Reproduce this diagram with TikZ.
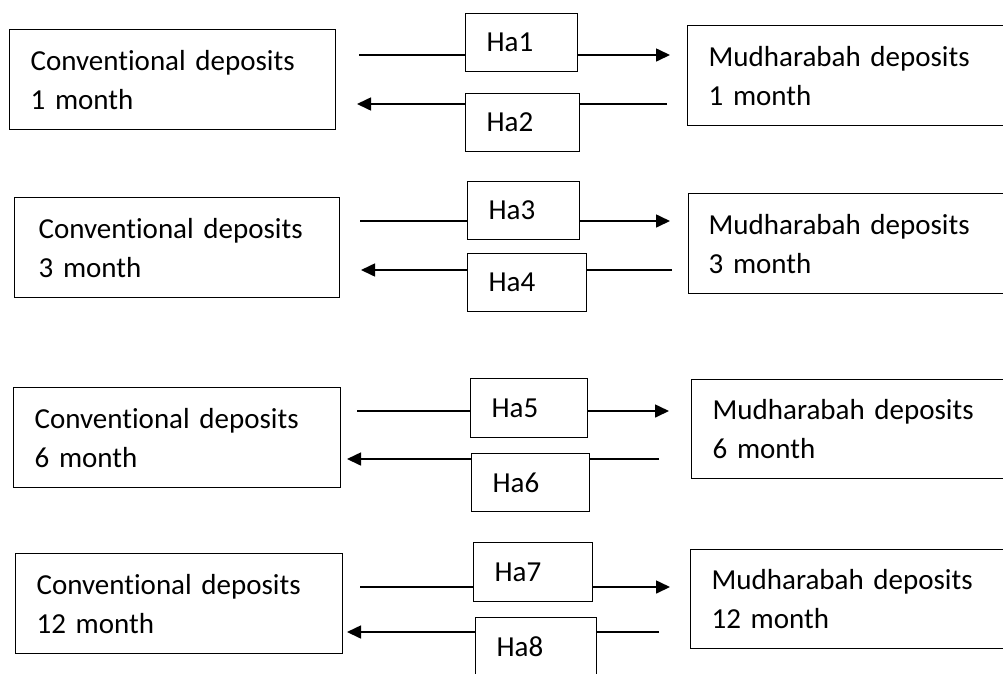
\documentclass[tikz,border=0pt]{standalone}
\usepackage{fontspec}
\setmainfont{Carlito}[Ligatures=NoCommon]
\usetikzlibrary{arrows.meta}
\begin{document}
\begin{tikzpicture}[x=1pt,y=-1pt,
  every node/.style={font=\fontsize{29}{39}\selectfont},
  depbox/.style={draw, line width=1.3pt, anchor=north west, inner xsep=21pt, inner ysep=0pt, align=left, minimum height=100pt},
  habox/.style={draw, line width=1.3pt, anchor=north west, inner xsep=21pt, inner ysep=0pt, align=left, minimum height=58pt},
  link/.style={line width=1.6pt},
  arr/.style={line width=1.6pt, -{Triangle[length=14pt,width=13pt]}}]
\useasboundingbox (0,0) rectangle (1003,673);
\clip (0,0) rectangle (1003,673);

% ---------- group 1 ----------
\node[depbox, text width=284pt] (c1) at (9,29) {Conventional deposits\\1 month};
\node[depbox, text width=291pt] (m1) at (687,25) {Mudharabah deposits\\1 month};
\node[habox, text width=70pt] (h1) at (465,13) {Ha1};
\node[habox, text width=72pt] (h2) at (465,93) {Ha2};
\coordinate (a1s) at (359,55); \coordinate (a1e) at (670,55);
\coordinate (b1s) at (667,104); \coordinate (b1e) at (357,104);
\draw[link] (a1s) -- (a1s -| h1.west);
\draw[arr] (a1s -| h1.east) -- (a1e);
\draw[link] (b1s) -- (b1s -| h2.east);
\draw[arr] (b1s -| h2.west) -- (b1e);

% ---------- group 2 ----------
\node[depbox, inner xsep=24pt, text width=277pt] (c2) at (14,197) {Conventional deposits\\3 month};
\node[depbox, inner xsep=20pt, text width=292pt] (m2) at (688,193) {Mudharabah deposits\\3 month};
\node[habox, text width=70pt] (h3) at (467,181) {Ha3};
\node[habox, text width=77pt] (h4) at (467,253) {Ha4};
\coordinate (a2s) at (360,221); \coordinate (a2e) at (670,221);
\coordinate (b2s) at (672,270); \coordinate (b2e) at (361,270);
\draw[link] (a2s) -- (a2s -| h3.west);
\draw[arr] (a2s -| h3.east) -- (a2e);
\draw[link] (b2s) -- (b2s -| h4.east);
\draw[arr] (b2s -| h4.west) -- (b2e);

% ---------- group 3 ----------
\node[depbox, text width=285pt, minimum height=100pt] (c3) at (13,387) {Conventional deposits\\6 month};
\node[depbox, text width=287pt, minimum height=99pt] (m3) at (691,379) {Mudharabah deposits\\6 month};
\node[habox, text width=75pt, minimum height=59pt] (h5) at (470,378) {Ha5};
\node[habox, text width=76pt] (h6) at (471,453) {Ha6};
\coordinate (a3s) at (357,411); \coordinate (a3e) at (669,411);
\coordinate (b3s) at (659,459); \coordinate (b3e) at (347,459);
\draw[link] (a3s) -- (a3s -| h5.west);
\draw[arr] (a3s -| h5.east) -- (a3e);
\draw[link] (b3s) -- (b3s -| h6.east);
\draw[arr] (b3s -| h6.west) -- (b3e);

% ---------- group 4 ----------
\node[depbox, text width=285pt] (c4) at (15,553) {Conventional deposits\\12 month};
\node[depbox, text width=288pt, minimum height=99pt] (m4) at (690,549) {Mudharabah deposits\\12 month};
\node[habox, text width=77pt, minimum height=59pt] (h7) at (473,542) {Ha7};
\node[habox, text width=79pt] (h8) at (475,617) {Ha8};
\coordinate (a4s) at (360,587); \coordinate (a4e) at (670,587);
\coordinate (b4s) at (659,632); \coordinate (b4e) at (347,632);
\draw[link] (a4s) -- (a4s -| h7.west);
\draw[arr] (a4s -| h7.east) -- (a4e);
\draw[link] (b4s) -- (b4s -| h8.east);
\draw[arr] (b4s -| h8.west) -- (b4e);
\end{tikzpicture}
\end{document}
